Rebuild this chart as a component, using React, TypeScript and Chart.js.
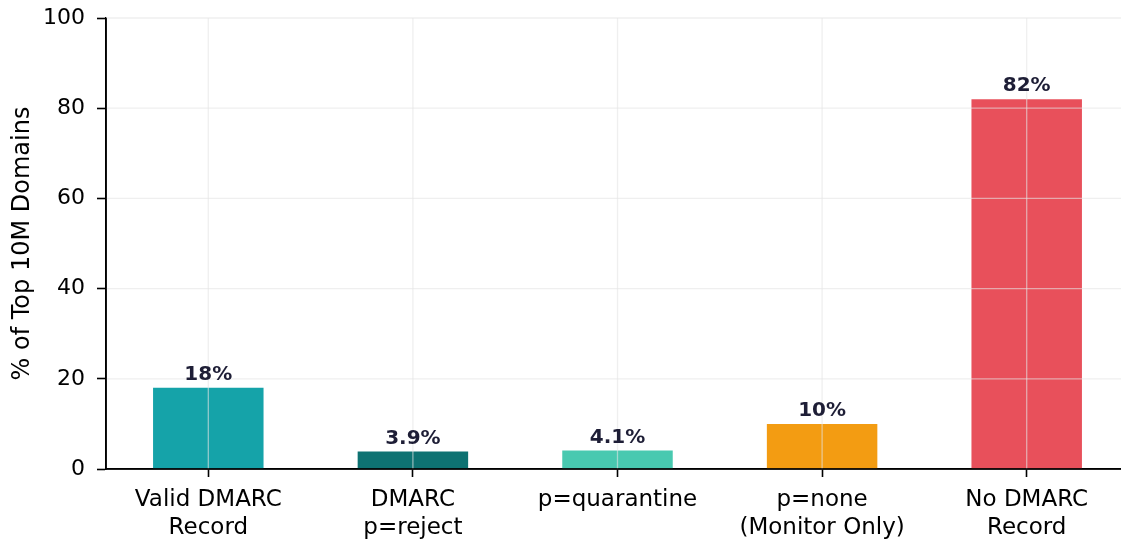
import React, { useEffect, useRef } from "react";
import { Chart, registerables } from "chart.js";

Chart.register(...registerables);

// DMARC adoption among the top 10M domains
const categories: string[][] = [
  ["Valid DMARC", "Record"],
  ["DMARC", "p=reject"],
  ["p=quarantine"],
  ["p=none", "(Monitor Only)"],
  ["No DMARC", "Record"],
];
const shares: number[] = [18, 3.9, 4.1, 10, 82];
const barColors: string[] = ["#15a3a9", "#0e7272", "#48c9b0", "#f39c12", "#e8505b"];
const yTicks: number[] = [0, 20, 40, 60, 80, 100];
const yTitle = "% of Top 10M Domains";

const FONT = "'DejaVu Sans', sans-serif";
const GRID = "rgba(228,228,228,0.6)";

const formatShare = (v: number) => (v < 10 ? v.toFixed(1) : Math.round(v).toFixed(0)) + "%";

// Grid drawn above the bars, then spines and value labels.
const overlay = {
  id: "overlay",
  afterDatasetsDraw(chart: any) {
    const { ctx, chartArea } = chart;
    const xs = chart.scales.x;
    const ys = chart.scales.y;
    ctx.save();
    ctx.strokeStyle = GRID;
    ctx.lineWidth = 1.3;
    for (let i = 0; i < categories.length; i++) {
      const x = xs.getPixelForValue(i);
      ctx.beginPath();
      ctx.moveTo(x, chartArea.top);
      ctx.lineTo(x, chartArea.bottom);
      ctx.stroke();
    }
    for (const t of yTicks) {
      if (t === 0) continue;
      const y = ys.getPixelForValue(t);
      ctx.beginPath();
      ctx.moveTo(chartArea.left, y);
      ctx.lineTo(chartArea.right, y);
      ctx.stroke();
    }
    // spines
    ctx.strokeStyle = "#000";
    ctx.lineWidth = 1.6;
    ctx.beginPath();
    ctx.moveTo(chartArea.left, chartArea.top);
    ctx.lineTo(chartArea.left, chartArea.bottom);
    ctx.lineTo(chartArea.right, chartArea.bottom);
    ctx.stroke();
    // value labels
    ctx.fillStyle = "#1e1e36";
    ctx.font = `bold 20px ${FONT}`;
    ctx.textAlign = "center";
    ctx.textBaseline = "bottom";
    const meta = chart.getDatasetMeta(0);
    meta.data.forEach((bar: any, i: number) => {
      ctx.fillText(formatShare(shares[i]), bar.x, bar.y - 3);
    });
    ctx.restore();
  },
};

export default function App() {
  const ref = useRef<HTMLCanvasElement>(null);

  useEffect(() => {
    if (!ref.current) return;
    const chart = new Chart(ref.current, {
      type: "bar",
      data: {
        labels: categories,
        datasets: [
          {
            data: shares,
            backgroundColor: barColors,
            borderWidth: 0,
            barPercentage: 0.54,
            categoryPercentage: 1,
          },
        ],
      },
      options: {
        responsive: false,
        animation: false,
        devicePixelRatio: 1,
        layout: { padding: { top: 18, right: 0, bottom: 0, left: 0 } },
        plugins: { legend: { display: false }, tooltip: { enabled: false } },
        scales: {
          x: {
            grid: { offset: false, drawOnChartArea: false, drawTicks: true, tickLength: 8, tickColor: "#000", tickWidth: 1.6 },
            border: { display: true, color: "#000", width: 1.6 },
            ticks: { color: "#000", font: { family: FONT, size: 23, lineHeight: 1.22 }, padding: 9, maxRotation: 0, autoSkip: false },
            afterFit: (s: any) => {
              s.height = 73;
              s.paddingLeft = 0;
              s.paddingRight = 0;
            },
          },
          y: {
            min: 0,
            max: 100,
            afterBuildTicks: (s: any) => {
              s.ticks = yTicks.map((v) => ({ value: v }));
            },
            grid: { drawOnChartArea: false, drawTicks: true, tickLength: 9, tickColor: "#000", tickWidth: 1.6 },
            border: { display: true, color: "#000", width: 1.6 },
            ticks: { color: "#000", font: { family: FONT, size: 22 }, padding: 12 },
            title: { display: true, text: yTitle, color: "#000", font: { family: FONT, size: 24 }, padding: { top: 8, bottom: 0 } },
            afterFit: (s: any) => {
              s.width = 106;
              s.paddingTop = 0;
              s.paddingBottom = 0;
            },
          },
        },
      },
      plugins: [overlay],
    });
    return () => chart.destroy();
  }, []);

  return (
    <div style={{ position: "fixed", left: 0, top: 0, width: 1121, height: 542, overflow: "hidden", background: "#fff" }}>
      <canvas ref={ref} width={1129} height={542} style={{ display: "block" }} />
    </div>
  );
}
